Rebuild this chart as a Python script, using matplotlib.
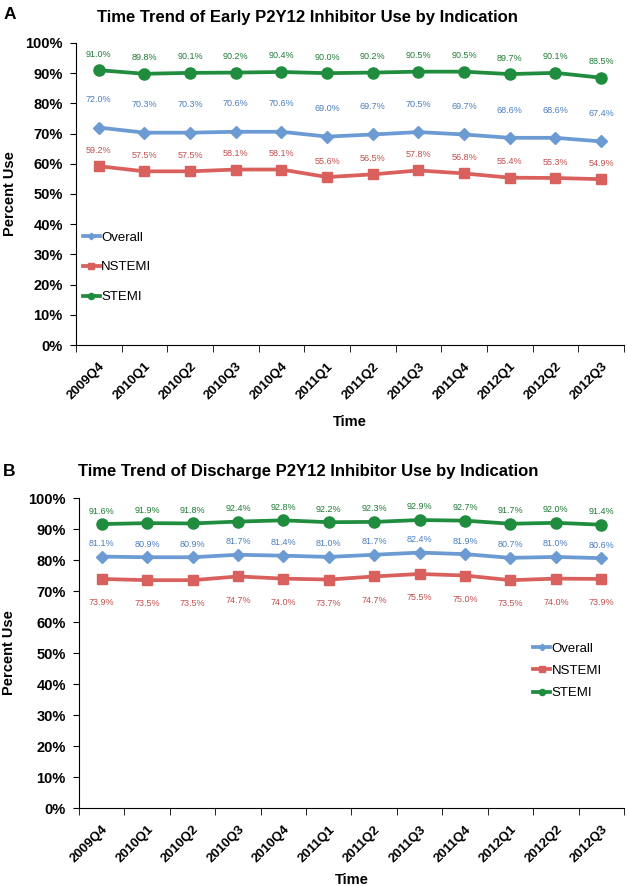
import matplotlib
matplotlib.use('Agg')
import matplotlib.pyplot as plt
from matplotlib.ticker import PercentFormatter, FixedLocator
import numpy as np

plt.rcParams['font.family'] = ['Liberation Sans', 'DejaVu Sans']

quarters = ['2009Q4', '2010Q1', '2010Q2', '2010Q3', '2010Q4', '2011Q1',
            '2011Q2', '2011Q3', '2011Q4', '2012Q1', '2012Q2', '2012Q3']

early_overall = [72.0, 70.3, 70.3, 70.6, 70.6, 69.0, 69.7, 70.5, 69.7, 68.6, 68.6, 67.4]
early_nstemi = [59.2, 57.5, 57.5, 58.1, 58.1, 55.6, 56.5, 57.8, 56.8, 55.4, 55.3, 54.9]
early_stemi = [91.0, 89.8, 90.1, 90.2, 90.4, 90.0, 90.2, 90.5, 90.5, 89.7, 90.1, 88.5]

disch_overall = [81.1, 80.9, 80.9, 81.7, 81.4, 81.0, 81.7, 82.4, 81.9, 80.7, 81.0, 80.6]
disch_nstemi = [73.9, 73.5, 73.5, 74.7, 74.0, 73.7, 74.7, 75.5, 75.0, 73.5, 74.0, 73.9]
disch_stemi = [91.6, 91.9, 91.8, 92.4, 92.8, 92.2, 92.3, 92.9, 92.7, 91.7, 92.0, 91.4]

c_blue, c_red, c_green = '#6b9bd2', '#d9605c', '#1f8c3e'
t_blue, t_red, t_green = '#4a7ebb', '#c0504d', '#1f7a35'

fig = plt.figure(figsize=(6.28, 8.86), dpi=100)
axA = fig.add_axes([0.121, 0.6106, 0.8726, 0.3409])
axB = fig.add_axes([0.1258, 0.0880, 0.8678, 0.3499])

x = np.arange(len(quarters))


def panel(ax, series, offsets, legend_pos, legend_gap):
    names = ['Overall', 'NSTEMI', 'STEMI']
    markers = ['D', 's', 'o']
    msizes = [6, 7, 8]
    cols = [c_blue, c_red, c_green]
    tcols = [t_blue, t_red, t_green]
    for vals, name, mk, ms, c, tc, off in zip(series, names, markers, msizes, cols, tcols, offsets):
        ax.plot(x, vals, color=c, lw=2.7, marker=mk, ms=ms, mec=c, mfc=c,
                label=name, zorder=3)
        for xi, v in zip(x, vals):
            ax.annotate('%.1f%%' % v, (xi, v), xytext=(0, off),
                        textcoords='offset points', ha='center',
                        va='center', fontsize=6.5, color=tc)
    ax.set_xlim(-0.5, len(quarters) - 0.5)
    ax.set_ylim(0, 100)
    ax.yaxis.set_major_locator(FixedLocator(range(0, 101, 10)))
    ax.yaxis.set_major_formatter(PercentFormatter(decimals=0))
    ax.set_xticks(x)
    ax.set_xticklabels(quarters, rotation=45, ha='right',
                       rotation_mode='anchor', fontweight='bold', fontsize=9.5)
    ax.set_xticks(np.arange(-0.5, len(quarters)), minor=True)
    ax.tick_params(axis='x', which='major', length=0, pad=11)
    ax.tick_params(axis='x', which='minor', length=5, direction='out')
    ax.tick_params(axis='y', length=4.5, direction='out', labelsize=10.5, pad=5)
    for lab in ax.get_yticklabels():
        lab.set_fontweight('bold')
    ax.spines['top'].set_visible(False)
    ax.spines['right'].set_visible(False)
    ax.set_ylabel('Percent Use', fontweight='bold', fontsize=10.5)
    ax.set_xlabel('Time', fontweight='bold', fontsize=10.5)
    ax.legend(loc='upper left', bbox_to_anchor=legend_pos, frameon=False,
              fontsize=9.5, handlelength=1.3, handletextpad=0.1,
              labelspacing=legend_gap, markerscale=0.55, borderpad=0,
              borderaxespad=0)


panel(axA, [early_overall, early_nstemi, early_stemi], [20, 11.5, 11.5],
      (0.012, 0.376), 1.33)
panel(axB, [disch_overall, disch_nstemi, disch_stemi], [9.4, -17, 9.4],
      (0.833, 0.534), 0.76)

axA.yaxis.set_label_coords(-0.108, 0.5)
axB.yaxis.set_label_coords(-0.115, 0.5)
axA.xaxis.set_label_coords(0.5, -0.255)
axB.xaxis.set_label_coords(0.5, -0.232)
axA.xaxis.label.set_va('center')
axB.xaxis.label.set_va('center')

fig.text(0.490, 0.9797, 'Time Trend of Early P2Y12 Inhibitor Use by Indication',
         ha='center', va='center', fontsize=12, fontweight='bold')
fig.text(0.490, 0.4673, 'Time Trend of Discharge P2Y12 Inhibitor Use by Indication',
         ha='center', va='center', fontsize=12, fontweight='bold')
fig.text(0.005, 0.984, 'A', ha='left', va='center', fontsize=12.5, fontweight='bold')
fig.text(0.005, 0.4673, 'B', ha='left', va='center', fontsize=12.5, fontweight='bold')

fig.savefig('out.png', dpi=100)
